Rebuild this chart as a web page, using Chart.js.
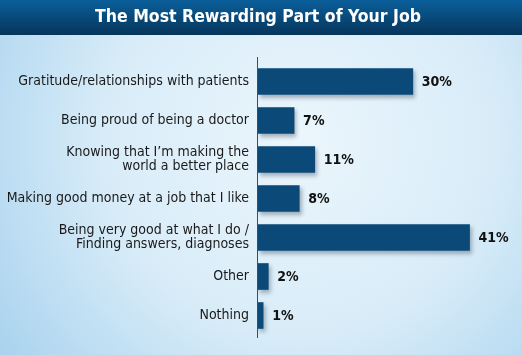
<!DOCTYPE html>
<html><head><meta charset="utf-8">
<script src="https://cdn.jsdelivr.net/npm/chart.js@4/dist/chart.umd.min.js"></script>
<style>html,body{margin:0;padding:0;background:#dcedf8;}canvas{display:block;}</style>
</head><body>
<canvas id="c" width="522" height="355"></canvas>
<script>
const titleText = "The Most Rewarding Part of Your Job";
const categories = [
  "Gratitude/relationships with patients",
  "Being proud of being a doctor",
  ["Knowing that I\u2019m making the", "world a better place"],
  "Making good money at a job that I like",
  ["Being very good at what I do /", "Finding answers, diagnoses"],
  "Other",
  "Nothing"
];
const percentValues = [30, 7, 11, 8, 41, 2, 1];
const valueLabels = ["30%", "7%", "11%", "8%", "41%", "2%", "1%"];

const condensed = "'Liberation Sans Narrow', 'DejaVu Sans Condensed', 'Roboto Condensed', Roboto, sans-serif";

const bgPlugin = {
  id: 'bg',
  beforeDraw(chart) {
    const ctx = chart.ctx, w = chart.width, h = chart.height;
    ctx.save();
    const g = ctx.createRadialGradient(300, 140, 10, 300, 140, 380);
    g.addColorStop(0, '#eaf5fc');
    g.addColorStop(0.5, '#d8ecf8');
    g.addColorStop(1, '#a6d1ee');
    ctx.fillStyle = g;
    ctx.fillRect(0, 0, w, h);
    const t = ctx.createLinearGradient(0, 0, 0, 35);
    t.addColorStop(0, '#0b5f9b');
    t.addColorStop(1, '#06355a');
    ctx.fillStyle = t;
    ctx.fillRect(0, 0, w, 35);
    ctx.restore();
  },
  beforeDatasetsDraw(chart) {
    const ctx = chart.ctx;
    ctx.save();
    ctx.shadowColor = 'rgba(0,20,40,0.3)';
    ctx.shadowOffsetX = 2;
    ctx.shadowOffsetY = 3;
    ctx.shadowBlur = 4;
  },
  afterDatasetsDraw(chart) {
    const ctx = chart.ctx;
    ctx.restore();
    ctx.save();
    const x0 = chart.scales.x.getPixelForValue(0);
    ctx.strokeStyle = '#4a4a4a';
    ctx.lineWidth = 1;
    ctx.beginPath();
    ctx.moveTo(Math.round(x0) - 0.5, 57);
    ctx.lineTo(Math.round(x0) - 0.5, 338);
    ctx.stroke();
    const meta = chart.getDatasetMeta(0);
    ctx.fillStyle = '#111111';
    ctx.font = "bold 14px " + condensed;
    ctx.textBaseline = 'middle';
    ctx.textAlign = 'left';
    meta.data.forEach((bar, i) => {
      ctx.fillText(valueLabels[i], bar.x + 9, bar.y + 1);
    });
    ctx.restore();
  }
};

new Chart(document.getElementById('c'), {
  type: 'bar',
  data: {
    labels: categories,
    datasets: [{
      data: percentValues,
      backgroundColor: (ctx) => {
        const el = ctx.element;
        const c = ctx.chart.ctx;
        if (!el || el.y === undefined) return '#0b4a78';
        const top = el.y - 13, bot = el.y + 13;
        const g = c.createLinearGradient(0, top, 0, bot);
        g.addColorStop(0, '#093b61');
        g.addColorStop(0.6, '#0c5789');
        g.addColorStop(1, '#0d5b8e');
        return g;
      },
      borderWidth: 0,
      barThickness: 26
    }]
  },
  options: {
    indexAxis: 'y',
    responsive: false,
    animation: false,
    layout: { padding: { left: 0, right: 6, top: 0, bottom: 20 } },
    plugins: {
      legend: { display: false },
      tooltip: { enabled: false },
      title: {
        display: true,
        text: titleText,
        color: '#ffffff',
        font: { family: condensed, size: 17.5, weight: 'bold', lineHeight: 1.2 },
        padding: { top: 7, bottom: 34 }
      }
    },
    scales: {
      x: {
        display: false,
        min: 0,
        max: 50
      },
      y: {
        grid: { display: false, drawTicks: false },
        border: { display: false },
        afterFit(scale) { scale.width = 258; },
        ticks: {
          color: '#1a1a1a',
          padding: 9,
          font: { family: condensed, size: 14, lineHeight: 0.95 }
        }
      }
    }
  },
  plugins: [bgPlugin]
});
</script>
</body></html>
